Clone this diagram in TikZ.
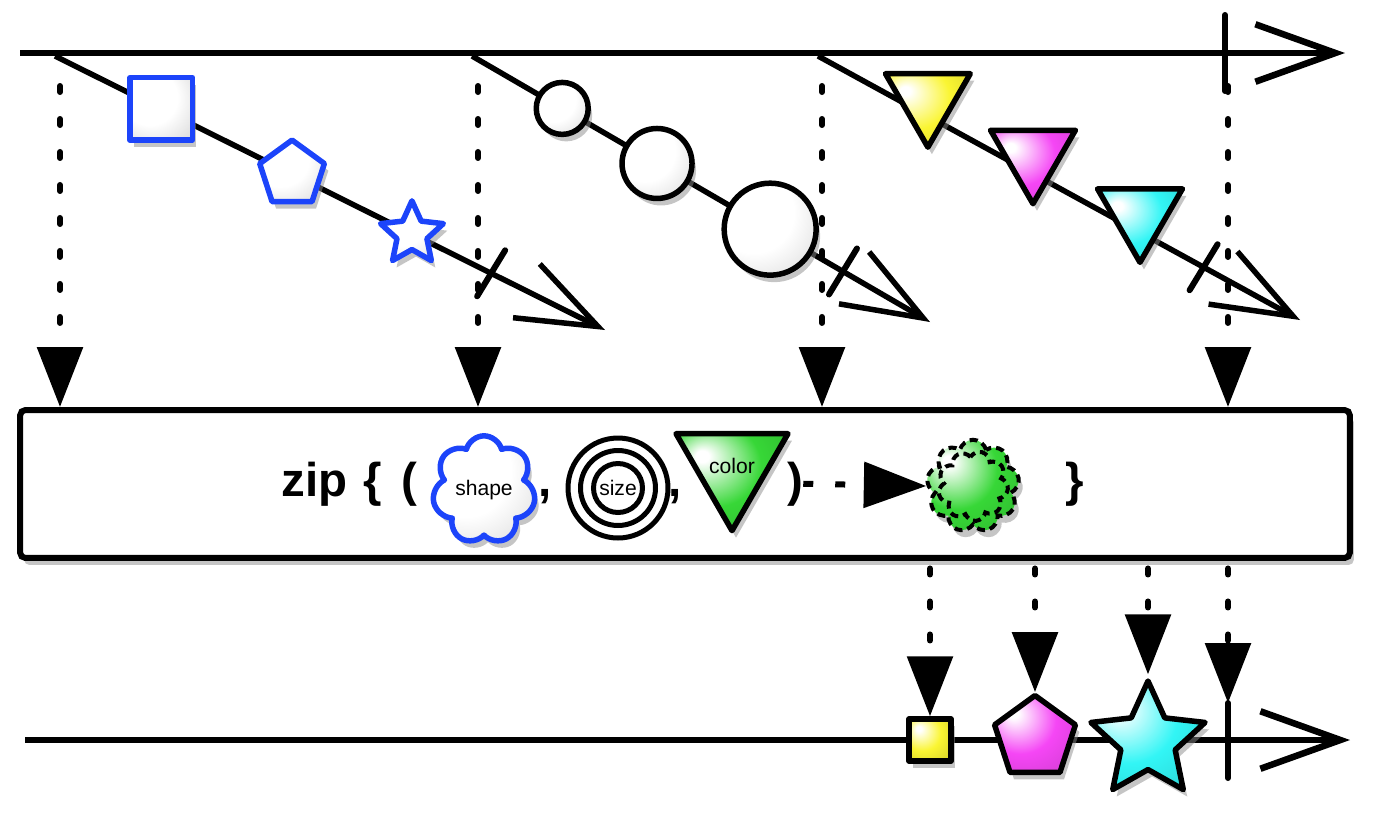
\documentclass[tikz,border=0pt]{standalone}
\usepackage{fontspec}
\setmainfont{Liberation Sans}
\usepackage{xcolor}
\usepackage{tikz}
\usetikzlibrary{arrows.meta,positioning,shapes.geometric,shapes.symbols,shadows}
\definecolor{rxblue}{RGB}{28,68,250}
\definecolor{rxyellow}{RGB}{250,245,50}
\definecolor{rxmagenta}{RGB}{245,70,245}
\definecolor{rxcyan}{RGB}{50,245,245}
\definecolor{rxgreen}{RGB}{55,215,55}
\colorlet{marblecol}{white}
\pgfdeclareradialshading[marblecol]{marble}{\pgfpoint{-14bp}{14bp}}{%
  color(0bp)=(white); color(3bp)=(white); color(22bp)=(marblecol);
  color(42bp)=(marblecol!85!black); color(62bp)=(marblecol!55!black)}
\tikzset{
  timeline/.style={line width=0.13cm, -{Straight Barb[length=1.6cm,width=1.15cm]}},
  flowline/.style={line width=0.11cm, -{Straight Barb[length=1.6cm,width=1.2cm]}},
  endtick/.style={line width=0.12cm, line cap=round},
  dotarrow/.style={line width=0.12cm, line cap=round, dash pattern=on 0.12cm off 0.54cm,
                   -{Triangle[length=1.2cm,width=0.9cm]}},
  marble/.style={shade, shading=marble, /utils/exec={\colorlet{marblecol}{#1}}},
  shadowed/.style={drop shadow={opacity=0.5, fill=black!45, shadow xshift=0.08cm, shadow yshift=-0.14cm}},
  item/.style={draw, line width=0.11cm, line join=round, inner sep=0pt, shadowed},
  blueitem/.style={item, draw=rxblue, marble=white},
  optext/.style={inner sep=0pt, font=\fontsize{27}{32}\selectfont\bfseries}
}

\begin{document}
\begin{tikzpicture}[x=0.02cm, y=-0.02cm,
    opbox/.style={draw, fill=white, line width=0.12cm, rounded corners=3pt,
                  minimum width=26.6cm, minimum height=2.96cm, shadowed},
    blob/.style={cloud, cloud puffs=9, aspect=1, draw, line width=0.08cm,
                 dash pattern=on 0.16cm off 0.1cm, inner sep=0pt},
    ring/.style={line width=0.1cm},
    zipflow/.style={line width=0.12cm, dash pattern=on 0.2cm off 0.44cm,
                    -{Triangle[length=1.25cm,width=0.9cm]}}
  ]
  \useasboundingbox (0,0) rectangle (1384,816);

  % source line
  \coordinate (top0) at (20,53);
  \coordinate (top1) at (1345,53);
  \coordinate (tend) at (1225,53);
  \draw[timeline] (top0) -- (top1);
  \draw[endtick] ([shift={(0,-38)}]tend) -- ([shift={(0,38)}]tend);

  % shapes
  \coordinate (a1) at (55,56);
  \coordinate (b1) at (605,330);
  \draw[flowline] (a1) -- (b1)
    node[pos=0.193, blueitem, rectangle, minimum size=1.25cm] (sq) {}
    node[pos=0.431, blueitem, regular polygon, regular polygon sides=5, minimum size=1.36cm] (pg) {}
    node[pos=0.649, blueitem, star, star points=5, star point ratio=2.1, minimum size=1.32cm] (st) {}
    coordinate[pos=0.793] (x1);

  % sizes
  \coordinate (a2) at (472,56);
  \coordinate (b2) at (930,322);
  \draw[flowline] (a2) -- (b2)
    node[pos=0.197, item, circle, marble=white, minimum size=1.04cm] (sm) {}
    node[pos=0.404, item, circle, marble=white, minimum size=1.4cm] (md) {}
    node[pos=0.651, item, circle, marble=white, minimum size=1.84cm] (lg) {}
    coordinate[pos=0.81] (x2);

  % colors
  \coordinate (a3) at (818,56);
  \coordinate (b3) at (1300,320);
  \draw[flowline] (a3) -- (b3)
    node[pos=0.228, yshift=0.36cm, item, regular polygon, regular polygon sides=3,
         shape border rotate=180, marble=rxyellow, minimum size=1.96cm] (ty) {}
    node[pos=0.446, yshift=0.38cm, item, regular polygon, regular polygon sides=3,
         shape border rotate=180, marble=rxmagenta, minimum size=1.96cm] (tm) {}
    node[pos=0.668, yshift=0.38cm, item, regular polygon, regular polygon sides=3,
         shape border rotate=180, marble=rxcyan, minimum size=1.96cm] (tc) {}
    coordinate[pos=0.80] (x3);

  \foreach \t in {x1,x2,x3}
    \draw[endtick] ([shift={(-14,23)}]\t) -- ([shift={(14,-23)}]\t);

  % operator box
  \node[opbox] (zip) at (685,484) {};

  \coordinate (d1) at (60,86);
  \coordinate (d2) at (478,86);
  \coordinate (d3) at (822,86);
  \coordinate (d4) at (1228,86);
  \foreach \d in {d1,d2,d3,d4}
    \draw[dotarrow] (\d) -- (zip.north -| \d);

  \node[optext, anchor=base west] (ziplbl) at (281,496) {zip\hspace{0.35em}\{\hspace{0.4em}(};
  \node[cloud, cloud puffs=7, aspect=0.9, blueitem, minimum width=1.85cm, minimum height=2.05cm,
        font=\fontsize{12}{14}\selectfont] (shp) at (484,490) {shape};
  \node[optext, anchor=base] (cm1) at (545,496) {,};
  \node[circle, draw, line width=0.1cm, minimum size=0.98cm, inner sep=0pt,
        font=\fontsize{12}{14}\selectfont] (sz) at (618,488) {size};
  \draw[ring] (sz.center) circle[radius=0.75cm] (sz.center) circle[radius=1.0cm];
  \node[optext, anchor=base] (cm2) at (675,496) {,};
  \node[item, regular polygon, regular polygon sides=3, shape border rotate=180,
        marble=rxgreen, minimum size=2.2cm, font=\fontsize{12}{14}\selectfont] (col) at (732,466) {color};
  \node[optext, anchor=base] (rp) at (795,496) {)};
  \node[blob, marble=rxgreen, minimum size=1.85cm, shadowed] (blb) at (973,486) {};
  \node[blob, minimum size=1.4cm, rotate=25] (blbin) at (973,486) {};
  \draw[zipflow] (rp.east) -- (blb.west);
  \node[optext, anchor=base] (rb) at (1075,496) {\}};

  % result line
  \coordinate (bot0) at (25,740);
  \coordinate (bot1) at (1350,740);
  \coordinate (bend) at (1228,740);
  \coordinate (btop) at (1228,703);
  \draw[timeline] (bot0) -- (bot1);
  \draw[endtick] (btop) -- ([shift={(0,38)}]bend);
  \node[item, rectangle, marble=rxyellow, minimum size=0.84cm] (ry) at (930,740) {};
  \node[item, regular polygon, regular polygon sides=5, marble=rxmagenta, minimum size=1.7cm] (rm) at (1035,738) {};
  \node[item, star, star points=5, star point ratio=2.1, marble=rxcyan, minimum size=2.4cm] (rc) at (1148,741) {};

  \foreach \t in {ry,rm,rc}
    \draw[dotarrow, shorten <=0.15cm] (zip.south -| \t.north) -- (\t.north);
  \draw[dotarrow, shorten <=0.15cm] (zip.south -| btop) -- (btop);
\end{tikzpicture}
\end{document}
